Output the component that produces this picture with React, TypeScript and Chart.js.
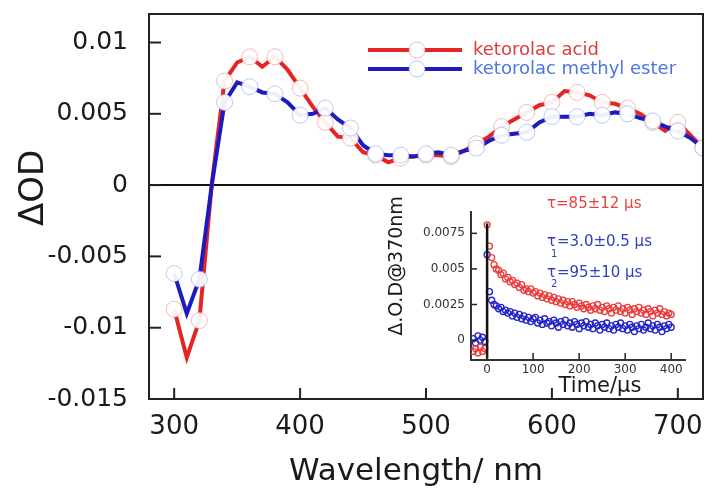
import React, { useEffect, useRef } from 'react';
import { Chart, registerables } from 'chart.js';

Chart.register(...registerables);

const FONT = '"DejaVu Sans", "Liberation Sans", sans-serif';

// ---------- main spectrum data ----------
const wavelengths = [300, 310, 320, 330, 340, 350, 360, 370, 380, 390, 400, 410, 420, 430, 440, 450, 460, 470, 480, 490, 500, 510, 520, 530, 540, 550, 560, 570, 580, 590, 600, 610, 620, 630, 640, 650, 660, 670, 680, 690, 700, 710, 720];
const acidOD = [-0.0087, -0.0121, -0.0095, 0.0002, 0.0073, 0.0086, 0.0090, 0.0083, 0.0090, 0.0081, 0.0068, 0.0055, 0.0044, 0.0034, 0.0033, 0.0023, 0.0021, 0.0016, 0.0019, 0.0020, 0.0021, 0.0021, 0.0020, 0.0024, 0.0029, 0.0034, 0.0041, 0.0046, 0.0051, 0.0056, 0.0058, 0.0066, 0.0065, 0.0063, 0.0058, 0.0057, 0.0054, 0.0050, 0.0044, 0.0038, 0.0044, 0.0035, 0.0026];
const esterOD = [-0.0062, -0.0090, -0.0066, 0.0001, 0.0058, 0.0072, 0.0069, 0.0065, 0.0064, 0.0058, 0.0049, 0.0050, 0.0054, 0.0046, 0.0040, 0.0028, 0.0022, 0.0021, 0.0021, 0.0020, 0.0022, 0.0023, 0.0021, 0.0024, 0.0026, 0.0031, 0.0035, 0.0036, 0.0037, 0.0044, 0.0048, 0.0048, 0.0048, 0.0050, 0.0049, 0.0051, 0.0050, 0.0047, 0.0045, 0.0041, 0.0038, 0.0033, 0.0026];
const xTicks = [300, 400, 500, 600, 700];
const yTicks = [-0.015, -0.01, -0.005, 0, 0.005, 0.01];

// ---------- inset kinetics data ----------
const insetTime = [-30, -25, -20, -15, -10, -5, 0, 5, 10, 15, 20, 25, 30, 35, 40, 45, 50, 55, 60, 65, 70, 75, 80, 85, 90, 95, 100, 105, 110, 115, 120, 125, 130, 135, 140, 145, 150, 155, 160, 165, 170, 175, 180, 185, 190, 195, 200, 205, 210, 215, 220, 225, 230, 235, 240, 245, 250, 255, 260, 265, 270, 275, 280, 285, 290, 295, 300, 305, 310, 315, 320, 325, 330, 335, 340, 345, 350, 355, 360, 365, 370, 375, 380, 385, 390, 395, 400];
const insetAcid = [-0.0008, -0.0006, -0.0009, -0.0005, -0.0008, -0.0006, 0.0081, 0.0066, 0.0058, 0.0053, 0.0050, 0.0049, 0.0046, 0.0047, 0.0043, 0.0044, 0.0041, 0.0042, 0.0039, 0.0040, 0.0037, 0.0039, 0.0035, 0.0036, 0.0034, 0.0036, 0.0033, 0.0034, 0.0031, 0.0033, 0.0030, 0.0032, 0.0029, 0.0031, 0.0028, 0.0030, 0.0027, 0.0029, 0.0026, 0.0028, 0.0025, 0.0027, 0.0024, 0.0027, 0.0025, 0.0023, 0.0026, 0.0024, 0.0022, 0.0025, 0.0023, 0.0021, 0.0024, 0.0022, 0.0025, 0.0021, 0.0023, 0.0020, 0.0024, 0.0022, 0.0019, 0.0023, 0.0021, 0.0024, 0.0020, 0.0022, 0.0019, 0.0023, 0.0021, 0.0018, 0.0022, 0.0020, 0.0023, 0.0019, 0.0021, 0.0018, 0.0022, 0.0020, 0.0017, 0.0021, 0.0019, 0.0022, 0.0018, 0.0020, 0.0017, 0.0019, 0.0018];
const insetEster = [0.0001, -0.0002, 0.0003, 0.0000, 0.0002, -0.0001, 0.0060, 0.0034, 0.0028, 0.0025, 0.0024, 0.0022, 0.0023, 0.0020, 0.0021, 0.0019, 0.0020, 0.0017, 0.0019, 0.0016, 0.0018, 0.0015, 0.0017, 0.0014, 0.0016, 0.0013, 0.0015, 0.0016, 0.0012, 0.0014, 0.0011, 0.0015, 0.0012, 0.0013, 0.0010, 0.0014, 0.0012, 0.0009, 0.0013, 0.0011, 0.0014, 0.0010, 0.0012, 0.0009, 0.0013, 0.0011, 0.0008, 0.0012, 0.0010, 0.0013, 0.0009, 0.0011, 0.0008, 0.0012, 0.0010, 0.0007, 0.0011, 0.0009, 0.0012, 0.0008, 0.0010, 0.0007, 0.0011, 0.0009, 0.0012, 0.0008, 0.0010, 0.0007, 0.0011, 0.0009, 0.0006, 0.0010, 0.0008, 0.0011, 0.0007, 0.0009, 0.0012, 0.0008, 0.0010, 0.0007, 0.0011, 0.0009, 0.0006, 0.0010, 0.0008, 0.0011, 0.0009];
const spikeTime = [0, 0];
const spikeValue = [-0.0013, 0.0082];
const insetXTicks = [0, 100, 200, 300, 400];
const insetYTicks = [0, 0.0025, 0.005, 0.0075];

const RED = 'rgb(230, 36, 36)';
const BLUE = 'rgb(28, 28, 190)';
const RED_MARK = 'rgba(236, 130, 130, 0.55)';
const BLUE_MARK = 'rgba(130, 160, 236, 0.55)';
const INK = '#1a1a1a';

const fmt = (v: number) => String(Number(Number(v).toFixed(4)));

function line(ctx: CanvasRenderingContext2D, x1: number, y1: number, x2: number, y2: number) {
  ctx.beginPath();
  ctx.moveTo(x1, y1);
  ctx.lineTo(x2, y2);
  ctx.stroke();
}

const noPadY = (w: number) => (s: any) => { s.width = w; s.paddingTop = 0; s.paddingBottom = 0; };
const noPadX = (h: number) => (s: any) => { s.height = h; s.paddingLeft = 0; s.paddingRight = 0; };

const mainDecor = {
  id: 'mainDecor',
  beforeDatasetsDraw(chart: any) {
    const { ctx, chartArea: a, scales } = chart;
    const y0 = scales.y.getPixelForValue(0);
    ctx.save();
    ctx.strokeStyle = '#111';
    ctx.lineWidth = 2;
    line(ctx, a.left, y0, a.right, y0);
    ctx.restore();
  },
  afterDraw(chart: any) {
    const { ctx, chartArea: a, scales } = chart;
    ctx.save();
    ctx.strokeStyle = '#222';
    ctx.lineWidth = 2;
    ctx.strokeRect(a.left, a.top, a.right - a.left, a.bottom - a.top);
    yTicks.forEach((v) => {
      const py = scales.y.getPixelForValue(v);
      line(ctx, a.left, py, a.left + 12, py);
    });
    xTicks.forEach((v) => {
      const px = scales.x.getPixelForValue(v);
      line(ctx, px, a.bottom, px, a.bottom - 11);
    });
    const items = [
      { label: 'ketorolac acid', color: RED, mark: RED_MARK, text: 'rgb(216, 62, 62)', y: 50 },
      { label: 'ketorolac methyl ester', color: BLUE, mark: BLUE_MARK, text: 'rgb(74, 120, 224)', y: 69 },
    ];
    items.forEach((it) => {
      ctx.strokeStyle = it.color;
      ctx.lineWidth = 4;
      line(ctx, 368, it.y, 462, it.y);
      ctx.beginPath();
      ctx.arc(417, it.y, 8, 0, Math.PI * 2);
      ctx.fillStyle = '#fff';
      ctx.fill();
      ctx.lineWidth = 1;
      ctx.strokeStyle = it.mark;
      ctx.stroke();
      ctx.fillStyle = it.text;
      ctx.font = `18px ${FONT}`;
      ctx.textAlign = 'left';
      ctx.textBaseline = 'middle';
      ctx.fillText(it.label, 473, it.y);
    });
    ctx.fillStyle = INK;
    ctx.font = `31px ${FONT}`;
    ctx.textAlign = 'center';
    ctx.textBaseline = 'alphabetic';
    ctx.fillText('Wavelength/ nm', 416, 480);
    ctx.save();
    ctx.translate(43, 188);
    ctx.rotate(-Math.PI / 2);
    ctx.font = `34px ${FONT}`;
    ctx.fillText('ΔOD', 0, 0);
    ctx.restore();
    ctx.restore();
  },
};

const insetDecor = {
  id: 'insetDecor',
  afterDraw(chart: any) {
    const { ctx, chartArea: a, scales } = chart;
    ctx.save();
    ctx.strokeStyle = '#222';
    ctx.lineWidth = 1.5;
    insetYTicks.forEach((v) => {
      const py = scales.y.getPixelForValue(v);
      line(ctx, a.left, py, a.left + 6, py);
    });
    insetXTicks.forEach((v) => {
      const px = scales.x.getPixelForValue(v);
      line(ctx, px, a.bottom, px, a.bottom - 7);
    });
    ctx.fillStyle = INK;
    ctx.textAlign = 'center';
    ctx.textBaseline = 'alphabetic';
    ctx.font = `21px ${FONT}`;
    ctx.fillText('Time/µs', 600, 392);
    ctx.save();
    ctx.translate(402, 266);
    ctx.rotate(-Math.PI / 2);
    ctx.font = `19px ${FONT}`;
    ctx.fillText('Δ.O.D@370nm', 0, 0);
    ctx.restore();
    ctx.textAlign = 'left';
    ctx.font = `15px ${FONT}`;
    ctx.fillStyle = 'rgb(232, 66, 62)';
    ctx.fillText('τ=85±12 µs', 547, 208);
    ctx.fillStyle = 'rgb(50, 62, 190)';
    ctx.fillText('τ', 547, 246);
    ctx.fillText('=3.0±0.5 µs', 557, 246);
    ctx.fillText('τ', 547, 277);
    ctx.fillText('=95±10 µs', 557, 277);
    ctx.font = `10px ${FONT}`;
    ctx.fillText('1', 551, 257);
    ctx.fillText('2', 551, 287);
    ctx.restore();
  },
};

export default function App() {
  const mainRef = useRef<HTMLCanvasElement>(null);
  const insetRef = useRef<HTMLCanvasElement>(null);

  useEffect(() => {
    const markIdx = (i: number) => wavelengths[i] % 20 === 0;
    const pts = (arr: number[]) => wavelengths.map((w, i) => ({ x: w, y: arr[i] }));
    const marks = (arr: number[]) =>
      wavelengths.map((w, i) => ({ x: w, y: arr[i] })).filter((_, i) => markIdx(i));

    const main = new Chart(mainRef.current as HTMLCanvasElement, {
      type: 'line',
      data: {
        datasets: [
          { label: 'ketorolac acid', data: pts(acidOD), borderColor: RED, borderWidth: 4, pointRadius: 0, tension: 0, order: 3 },
          { label: 'ketorolac methyl ester', data: pts(esterOD), borderColor: BLUE, borderWidth: 4, pointRadius: 0, tension: 0, order: 2 },
          { label: 'acid markers', data: marks(acidOD), showLine: false, pointRadius: 8, pointBackgroundColor: 'rgba(255,255,255,0.93)', pointBorderColor: RED_MARK, pointBorderWidth: 1, order: 1 },
          { label: 'ester markers', data: marks(esterOD), showLine: false, pointRadius: 8, pointBackgroundColor: 'rgba(255,255,255,0.93)', pointBorderColor: BLUE_MARK, pointBorderWidth: 1, order: 0 },
        ],
      } as any,
      options: {
        animation: false,
        responsive: false,
        devicePixelRatio: 1,
        layout: { padding: { left: 0, top: 14, right: 8, bottom: 0 } },
        plugins: { legend: { display: false }, tooltip: { enabled: false } },
        scales: {
          x: {
            type: 'linear',
            min: 280,
            max: 720,
            afterFit: noPadX(94),
            afterBuildTicks: (s: any) => { s.ticks = xTicks.map((v) => ({ value: v })); },
            ticks: { color: INK, font: { family: FONT, size: 26 }, padding: 13, maxRotation: 0, autoSkip: false, callback: (v: any) => String(v) },
            grid: { display: false, drawTicks: false },
            border: { display: false },
          },
          y: {
            type: 'linear',
            min: -0.015,
            max: 0.012,
            afterFit: noPadY(149),
            afterBuildTicks: (s: any) => { s.ticks = yTicks.map((v) => ({ value: v })); },
            ticks: { color: INK, font: { family: FONT, size: 25 }, padding: 21, autoSkip: false, callback: (v: any) => fmt(v) },
            grid: { display: false, drawTicks: false },
            border: { display: false },
          },
        },
      } as any,
      plugins: [mainDecor],
    });

    const inset = new Chart(insetRef.current as HTMLCanvasElement, {
      type: 'scatter',
      data: {
        datasets: [
          { label: 'spike', data: spikeTime.map((t, i) => ({ x: t, y: spikeValue[i] })), showLine: true, borderColor: '#111', borderWidth: 2.5, pointRadius: 0, order: 0 },
          { label: 'acid kinetics', data: insetTime.map((t, i) => ({ x: t, y: insetAcid[i] })), pointRadius: 3, pointBorderWidth: 1.3, pointBorderColor: 'rgb(236, 60, 60)', pointBackgroundColor: 'rgba(0,0,0,0)', order: 1 },
          { label: 'ester kinetics', data: insetTime.map((t, i) => ({ x: t, y: insetEster[i] })), pointRadius: 3, pointBorderWidth: 1.3, pointBorderColor: 'rgb(36, 36, 200)', pointBackgroundColor: 'rgba(0,0,0,0)', order: 2 },
        ],
      } as any,
      options: {
        animation: false,
        responsive: false,
        devicePixelRatio: 1,
        layout: { padding: { left: 0, top: 212, right: 27, bottom: 0 } },
        plugins: { legend: { display: false }, tooltip: { enabled: false } },
        scales: {
          x: {
            type: 'linear',
            min: -35,
            max: 430,
            afterFit: noPadX(133),
            afterBuildTicks: (s: any) => { s.ticks = insetXTicks.map((v) => ({ value: v })); },
            ticks: { color: '#333', font: { family: FONT, size: 12 }, padding: 3, maxRotation: 0, autoSkip: false, callback: (v: any) => String(v) },
            grid: { display: false, drawTicks: false },
            border: { display: true, color: '#333', width: 2 },
          },
          y: {
            type: 'linear',
            min: -0.0014,
            max: 0.009,
            afterFit: noPadY(471),
            afterBuildTicks: (s: any) => { s.ticks = insetYTicks.map((v) => ({ value: v })); },
            ticks: { color: '#333', font: { family: FONT, size: 12 }, padding: 6, autoSkip: false, callback: (v: any) => fmt(v) },
            grid: { display: false, drawTicks: false },
            border: { display: true, color: '#333', width: 2 },
          },
        },
      } as any,
      plugins: [insetDecor],
    });

    return () => {
      main.destroy();
      inset.destroy();
    };
  }, []);

  return (
    <div style={{ position: 'fixed', left: 0, top: 0, width: 712, height: 493, background: '#fff' }}>
      <canvas ref={mainRef} width={712} height={493} style={{ position: 'absolute', left: 0, top: 0 }} />
      <canvas ref={insetRef} width={712} height={493} style={{ position: 'absolute', left: 0, top: 0 }} />
    </div>
  );
}
